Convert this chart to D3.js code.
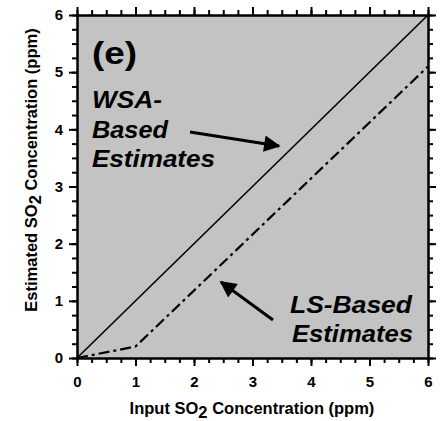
<!DOCTYPE html>
<html>
<head>
<meta charset="utf-8">
<script src="https://cdn.jsdelivr.net/npm/d3@7"></script>
<style>
  html, body { margin: 0; padding: 0; background: #fff; }
  svg text { font-family: "Liberation Sans", Arial, Helvetica, sans-serif; font-weight: bold; fill: #000; }
</style>
</head>
<body>
<svg id="chart" width="440" height="421"></svg>
<script>
// Input SO2 concentration (ppm) and the two estimate series
const wsaInput = [0, 6];
const wsaEstimate = [0, 6];
const lsInput = [0, 1, 6];
const lsEstimate = [0, 0.2, 5.1];
const tickValues = [0, 1, 2, 3, 4, 5, 6];
const minorTickValues = d3.range(0, 6.001, 0.25);

const svg = d3.select("#chart");
const x = d3.scaleLinear().domain([0, 6]).range([77, 428]);
const y = d3.scaleLinear().domain([0, 6]).range([358, 15]);

// plot background
svg.append("rect")
  .attr("x", x(0)).attr("y", y(6))
  .attr("width", x(6) - x(0)).attr("height", y(0) - y(6))
  .attr("fill", "#c3c3c3");

// axes on all four sides: major ticks with labels on left/bottom, minor ticks everywhere
function styleAxis(g) {
  g.select(".domain").attr("stroke", "#000").attr("stroke-width", 2);
  g.selectAll(".tick line").attr("stroke", "#000").attr("stroke-width", 2);
  g.selectAll(".tick text").style("font-size", "15px").style("font-weight", "bold");
}
const minor = (axis) => axis.tickValues(minorTickValues).tickSize(5).tickFormat("").tickSizeOuter(0);

svg.append("g").attr("transform", `translate(0,${y(0)})`).call(minor(d3.axisBottom(x))).call(styleAxis);
svg.append("g").attr("transform", `translate(0,${y(6)})`).call(minor(d3.axisTop(x))).call(styleAxis);
svg.append("g").attr("transform", `translate(${x(0)},0)`).call(minor(d3.axisLeft(y))).call(styleAxis);
svg.append("g").attr("transform", `translate(${x(6)},0)`).call(minor(d3.axisRight(y))).call(styleAxis);

svg.append("g").attr("transform", `translate(0,${y(0)})`)
  .call(d3.axisBottom(x).tickValues(tickValues).tickSize(8).tickPadding(10).tickSizeOuter(0).tickFormat(d3.format("d")))
  .call(styleAxis);
svg.append("g").attr("transform", `translate(0,${y(6)})`)
  .call(d3.axisTop(x).tickValues(tickValues).tickSize(8).tickFormat("").tickSizeOuter(0))
  .call(styleAxis);
svg.append("g").attr("transform", `translate(${x(0)},0)`)
  .call(d3.axisLeft(y).tickValues(tickValues).tickSize(8).tickPadding(6).tickSizeOuter(0).tickFormat(d3.format("d")))
  .call(styleAxis);
svg.append("g").attr("transform", `translate(${x(6)},0)`)
  .call(d3.axisRight(y).tickValues(tickValues).tickSize(8).tickFormat("").tickSizeOuter(0))
  .call(styleAxis);

// series lines
const line = d3.line().x(d => x(d[0])).y(d => y(d[1]));
svg.append("path")
  .datum(d3.zip(wsaInput, wsaEstimate))
  .attr("d", line).attr("fill", "none").attr("stroke", "#000").attr("stroke-width", 1.6);
svg.append("path")
  .datum(d3.zip(lsInput, lsEstimate))
  .attr("d", line).attr("fill", "none").attr("stroke", "#000").attr("stroke-width", 2.2)
  .attr("stroke-dasharray", "11,4,3,4");

// axis titles
const xt = svg.append("text").attr("x", 252).attr("y", 414).attr("text-anchor", "middle")
  .style("font-size", "16.5px");
xt.append("tspan").text("Input SO");
xt.append("tspan").attr("dy", 4).text("2");
xt.append("tspan").attr("dy", -4).text(" Concentration (ppm)");

const yt = svg.append("text").attr("transform", "translate(37,170) rotate(-90)").attr("text-anchor", "middle")
  .style("font-size", "16.5px");
yt.append("tspan").text("Estimated SO");
yt.append("tspan").attr("dy", 4).text("2");
yt.append("tspan").attr("dy", -4).text(" Concentration (ppm)");

// panel label and annotations
svg.append("text").attr("x", 92).attr("y", 64).style("font-size", "32px")
  .attr("textLength", 45).attr("lengthAdjust", "spacingAndGlyphs").text("(e)");

const ann = [
  { t: "WSA-", x: 92, y: 108, w: 70 },
  { t: "Based", x: 92, y: 138, w: 76 },
  { t: "Estimates", x: 92, y: 167, w: 123 },
  { t: "LS-Based", x: 290, y: 313, w: 122 },
  { t: "Estimates", x: 292, y: 342, w: 121 }
];
svg.selectAll("text.ann").data(ann).enter().append("text")
  .attr("class", "ann")
  .attr("x", d => d.x).attr("y", d => d.y)
  .attr("textLength", d => d.w).attr("lengthAdjust", "spacingAndGlyphs")
  .style("font-size", "23px").style("font-style", "italic")
  .text(d => d.t);

// arrows
svg.append("defs").append("marker")
  .attr("id", "head").attr("viewBox", "0 0 10 10")
  .attr("refX", 9).attr("refY", 5)
  .attr("markerWidth", 6).attr("markerHeight", 5.5)
  .attr("markerUnits", "strokeWidth")
  .attr("orient", "auto")
  .append("path").attr("d", "M0,0 L10,5 L0,10 Z").attr("fill", "#000");

const arrows = [
  { x1: 190, y1: 132, x2: 279, y2: 146 },
  { x1: 273, y1: 320, x2: 221, y2: 282 }
];
svg.selectAll("line.arrow").data(arrows).enter().append("line")
  .attr("class", "arrow")
  .attr("x1", d => d.x1).attr("y1", d => d.y1)
  .attr("x2", d => d.x2).attr("y2", d => d.y2)
  .attr("stroke", "#000").attr("stroke-width", 3)
  .attr("marker-end", "url(#head)");
</script>
</body>
</html>
